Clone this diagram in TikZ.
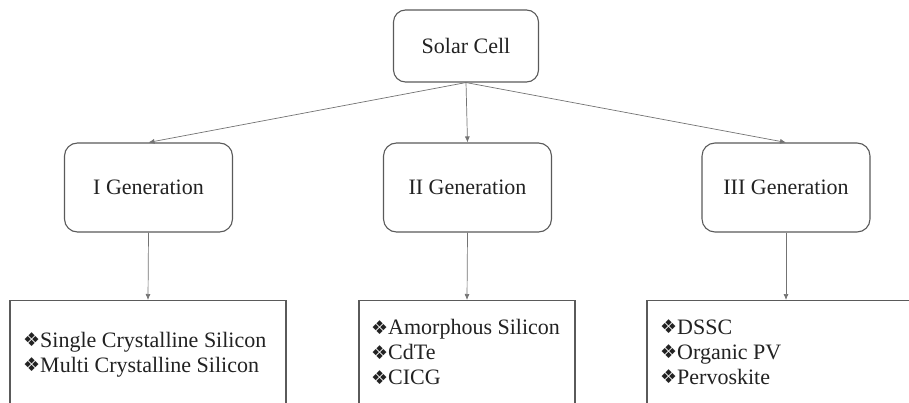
\documentclass[tikz,border=0pt]{standalone}
\usepackage{fontspec}
\setmainfont{Liberation Serif}
\newfontfamily\symfont{DejaVu Sans}
\usepackage{xcolor}
\usetikzlibrary{arrows.meta,positioning}

\definecolor{edgegray}{HTML}{5A5A5A}
\definecolor{inkgray}{HTML}{222222}
\newcommand{\itm}{{\symfont\fontsize{19}{19}\selectfont\raisebox{0.5pt}{❖}}}

\begin{document}
\begin{tikzpicture}[
    x=1pt, y=1pt,
    >={Latex[length=6pt,width=5pt]},
    every node/.style={font=\fontsize{22}{25}\selectfont, text=inkgray},
    root/.style={rounded corners=12pt, draw=edgegray, line width=1.1pt, minimum width=145pt, minimum height=72pt, fill=white},
    gen/.style={rounded corners=13pt, draw=edgegray, line width=1.1pt, minimum width=168pt, minimum height=89pt, fill=white},
    listbox/.style={draw=edgegray, line width=1.1pt, anchor=north, minimum height=140pt, fill=white},
    items/.style={align=left, anchor=west, inner sep=0pt},
    link/.style={->, draw=edgegray!85, line width=0.7pt}
]
\useasboundingbox (0,0) rectangle (909,402);
\clip (0,0) rectangle (909,402);

% top of the tree
\node[root] (cell) at (466,356) {Solar Cell};

% the three generations
\node[gen] (gen1) at (148.5,214.5) {I Generation};
\node[gen] (gen2) at (467.5,214.5) {II Generation};
\node[gen] (gen3) at (786,214.5) {III Generation};

% lists of cell types
\node[listbox, minimum width=276pt] (list1) at (148,102) {};
\node[listbox, minimum width=216pt] (list2) at (467,102) {};
\node[listbox, minimum width=278pt] (list3) at (786,102) {};

\node[items] (types1) at (23,47.5) {\itm Single Crystalline Silicon\\\itm Multi Crystalline Silicon};
\node[items] (types2) at (371,50) {\itm Amorphous Silicon\\\itm CdTe\\\itm CICG};
\node[items] (types3) at (660,50) {\itm DSSC\\\itm Organic PV\\\itm Pervoskite};

\draw[link] (cell.south) -- (gen1.north);
\draw[link] (cell.south) -- (gen2.north);
\draw[link] (cell.south) -- (gen3.north);
\draw[link] (gen1.south) -- (list1.north);
\draw[link] (gen2.south) -- (list2.north);
\draw[link] (gen3.south) -- (list3.north);

\end{tikzpicture}
\end{document}
